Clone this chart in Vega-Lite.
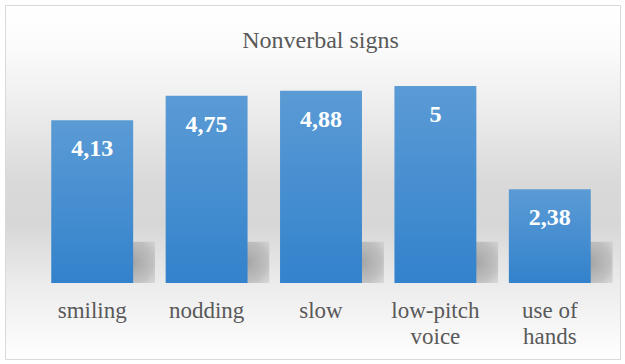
{
  "$schema": "https://vega.github.io/schema/vega-lite/v6.json",
  "width": 615,
  "height": 354,
  "padding": 5,
  "autosize": {"type": "none"},
  "background": "#ffffff",
  "config": {
    "view": {
      "stroke": "#d9d9d9",
      "strokeWidth": 1,
      "fill": {
        "gradient": "linear", "x1": 0, "y1": 0, "x2": 0, "y2": 1,
        "stops": [
          {"offset": 0, "color": "#ffffff"},
          {"offset": 0.12, "color": "#fbfbfb"},
          {"offset": 0.3, "color": "#ececec"},
          {"offset": 0.5, "color": "#d9d9d9"},
          {"offset": 0.62, "color": "#d7d7d7"},
          {"offset": 0.78, "color": "#ebebeb"},
          {"offset": 1, "color": "#ffffff"}
        ]
      }
    }
  },
  "title": {
    "text": "Nonverbal signs",
    "font": "'Liberation Serif', 'Times New Roman', serif",
    "fontSize": 24,
    "fontWeight": "normal",
    "color": "#595959",
    "anchor": "middle",
    "frame": "group",
    "baseline": "alphabetic",
    "offset": -67,
    "dx": 8
  },
  "data": {
    "values": [
      {"sign": "smiling", "value": 4.13, "label": "4,13"},
      {"sign": "nodding", "value": 4.75, "label": "4,75"},
      {"sign": "slow", "value": 4.88, "label": "4,88"},
      {"sign": "low-pitch voice", "value": 5, "label": "5"},
      {"sign": "use of hands", "value": 2.38, "label": "2,38"}
    ]
  },
  "encoding": {
    "x": {
      "field": "sign",
      "type": "nominal",
      "sort": null,
      "scale": {"range": [30, 602], "paddingInner": 0.284, "paddingOuter": 0.142},
      "axis": {
        "title": null,
        "orient": "bottom",
        "offset": -76,
        "domain": false,
        "ticks": false,
        "grid": false,
        "labelAngle": 0,
        "labelFont": "'Liberation Serif', 'Times New Roman', serif",
        "labelFontSize": 23,
        "labelColor": "#595959",
        "labelPadding": 16,
        "labelLineHeight": 26,
        "labelExpr": "datum.label == 'low-pitch voice' ? ['low-pitch', 'voice'] : datum.label == 'use of hands' ? ['use of', 'hands'] : datum.label"
      }
    }
  },
  "layer": [
    {
      "mark": {
        "type": "bar",
        "xOffset": 22,
        "color": {
          "gradient": "radial", "x1": 0.72, "y1": 0.5, "r1": 0, "x2": 0.72, "y2": 0.5, "r2": 0.55,
          "stops": [
            {"offset": 0, "color": "rgba(160,160,160,0.95)"},
            {"offset": 0.45, "color": "rgba(175,175,175,0.7)"},
            {"offset": 1, "color": "rgba(215,215,215,0)"}
          ]
        }
      },
      "encoding": {
        "y": {"datum": 0, "type": "quantitative", "scale": {"domain": [0, 5], "range": [278, 81]}, "axis": null},
        "y2": {"datum": 1.05}
      }
    },
    {
      "mark": {
        "type": "bar",
        "color": {
          "gradient": "linear", "x1": 0, "y1": 0, "x2": 0, "y2": 1,
          "stops": [
            {"offset": 0, "color": "#5b9bd5"},
            {"offset": 1, "color": "#3382cc"}
          ]
        }
      },
      "encoding": {
        "y": {"field": "value", "type": "quantitative", "scale": {"domain": [0, 5], "range": [278, 81]}, "axis": null}
      }
    },
    {
      "mark": {
        "type": "text",
        "font": "'Liberation Serif', 'Times New Roman', serif",
        "fontSize": 24,
        "fontWeight": "bold",
        "color": "#ffffff",
        "baseline": "alphabetic",
        "dy": 36
      },
      "encoding": {
        "y": {"field": "value", "type": "quantitative"},
        "text": {"field": "label"}
      }
    }
  ]
}
